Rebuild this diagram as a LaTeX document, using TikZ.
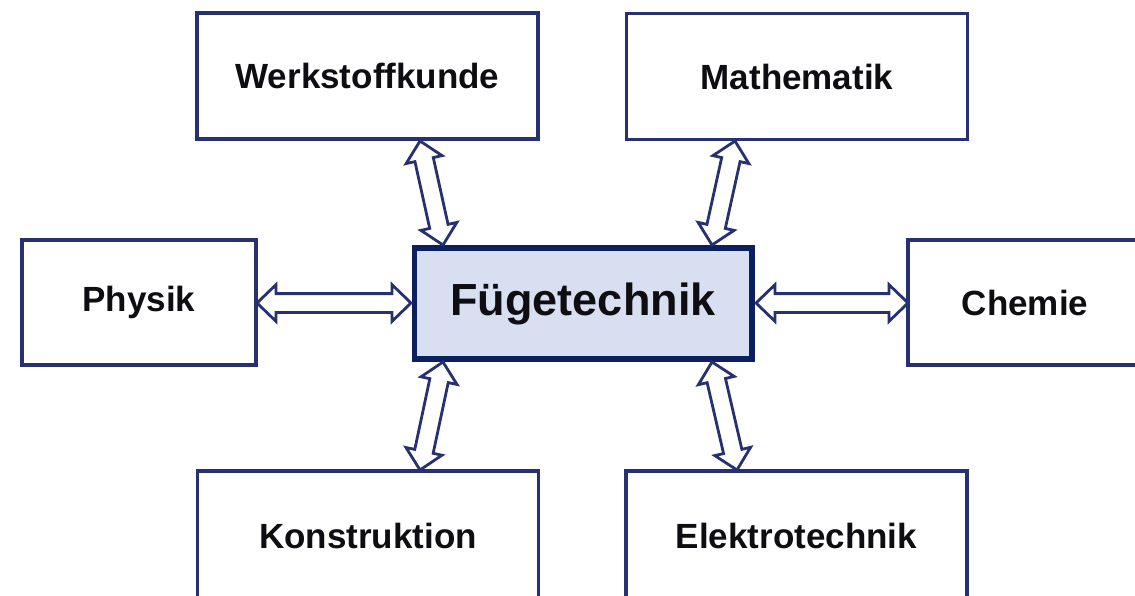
\documentclass[tikz,border=0pt]{standalone}
\usepackage{fontspec}
\setmainfont{Liberation Sans}
\usetikzlibrary{shapes.arrows,calc}

\definecolor{boxline}{HTML}{27316F}
\definecolor{coreline}{HTML}{0C1F5E}
\definecolor{corefill}{HTML}{D7DFF1}
\definecolor{inkc}{HTML}{0E0E12}

\tikzset{
  field/.style={draw=boxline, line width=3.2pt, fill=white, inner sep=0pt,
    text=inkc, font=\fontsize{35}{40}\selectfont\bfseries},
  wide/.style={minimum width=341pt, minimum height=126pt},
  narrow/.style={minimum width=234pt, minimum height=125pt},
  core/.style={draw=coreline, line width=5.5pt, fill=corefill, inner sep=0pt,
    minimum width=337.5pt, minimum height=111pt,
    text=inkc, font=\fontsize{45}{50}\selectfont\bfseries},
  link/.style={double arrow, draw=boxline, line width=2.8pt, fill=white,
    inner xsep=0pt, inner ysep=8pt, minimum width=34pt,
    double arrow head extend=9pt, double arrow tip angle=88}
}

% hollow two-headed arrow between two named points
\newcommand\linkarrow[3]{%
  \path let \p1=(#2), \p2=(#3),
    \n1={atan2(\y2-\y1,\x2-\x1)}, \n2={veclen(\x2-\x1,\y2-\y1)} in
    node[link, minimum height=\n2, rotate=\n1] (#1) at ($(\p1)!0.5!(\p2)$) {};}

\begin{document}
\begin{tikzpicture}[x=1pt, y=-1pt]
  \useasboundingbox (0,0) rectangle (1135,596);
  \clip (0,0) rectangle (1135,596);
  \fill[white] (0,0) rectangle (1135,596);

  % subject boxes
  \node[field, wide] (werk)   at (367.5,76)   {Werkstoffkunde};
  \node[field, wide] (mathe)  at (797,76.5)   {Mathematik};
  \node[field, narrow] (phys) at (139,302.5)  {Physik};
  \node[field, narrow] (chem) at (1025,302.5) {Chemie};
  \node[field, wide, minimum height=129pt] (konst) at (368,535.5)   {Konstruktion};
  \node[field, wide, minimum height=129pt] (elek)  at (796.5,535.5) {Elektrotechnik};

  % central box
  \node[core] (fuege) at (583,303.5) {Fügetechnik};

  % arrow end points on the box edges
  \coordinate (werk-a)  at (420,141);
  \coordinate (werk-b)  at (443,245);
  \coordinate (mathe-a) at (735,141);
  \coordinate (mathe-b) at (712,245);
  \coordinate (phys-a)  at (257,303);
  \coordinate (phys-b)  at (411,303);
  \coordinate (chem-a)  at (756,303);
  \coordinate (chem-b)  at (908,303);
  \coordinate (konst-a) at (443,362);
  \coordinate (konst-b) at (420,470);
  \coordinate (elek-a)  at (712,362);
  \coordinate (elek-b)  at (737,470);

  \linkarrow{l-werk}{werk-a}{werk-b}
  \linkarrow{l-mathe}{mathe-a}{mathe-b}
  \linkarrow{l-phys}{phys-a}{phys-b}
  \linkarrow{l-chem}{chem-a}{chem-b}
  \linkarrow{l-konst}{konst-a}{konst-b}
  \linkarrow{l-elek}{elek-a}{elek-b}
\end{tikzpicture}
\end{document}
